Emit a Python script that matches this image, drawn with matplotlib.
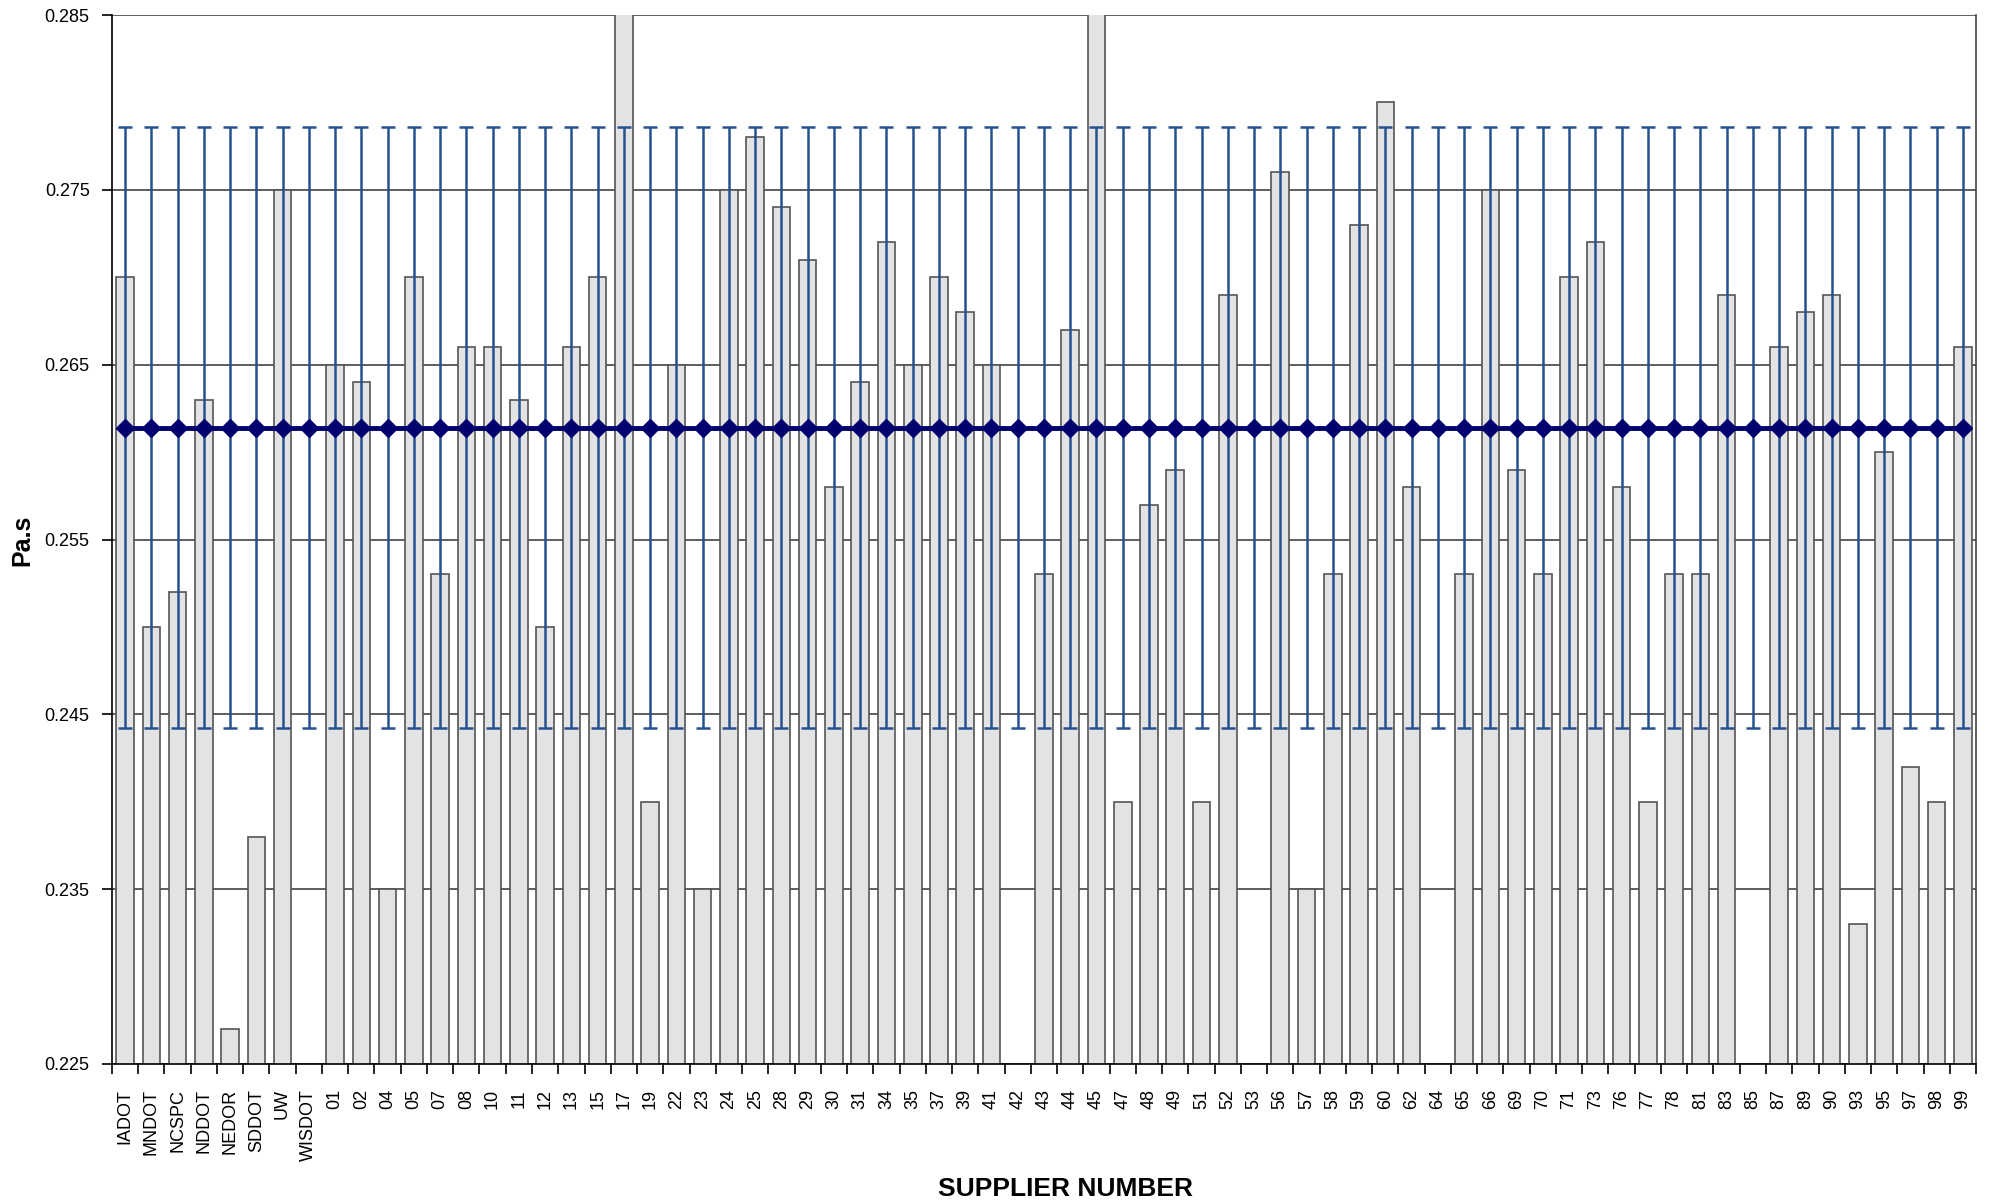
import numpy as np
import matplotlib
matplotlib.use("Agg")
import matplotlib.pyplot as plt

plt.rcParams['font.family'] = ['Liberation Sans', 'DejaVu Sans']

suppliers = ['IADOT', 'MNDOT', 'NCSPC', 'NDDOT', 'NEDOR', 'SDDOT', 'UW', 'WISDOT',
             '01', '02', '04', '05', '07', '08', '10', '11', '12', '13', '15', '17',
             '19', '22', '23', '24', '25', '28', '29', '30', '31', '34', '35', '37',
             '39', '41', '42', '43', '44', '45', '47', '48', '49', '51', '52', '53',
             '56', '57', '58', '59', '60', '62', '64', '65', '66', '69', '70', '71',
             '73', '76', '77', '78', '81', '83', '85', '87', '89', '90', '93', '95',
             '97', '98', '99']

# viscosity per supplier, nan = no result shown
viscosity = [0.270, 0.250, 0.252, 0.263, 0.227, 0.238, 0.275, np.nan,
             0.265, 0.264, 0.235, 0.270, 0.253, 0.266, 0.266, 0.263, 0.250, 0.266, 0.270, 0.290,
             0.240, 0.265, 0.235, 0.275, 0.278, 0.274, 0.271, 0.258, 0.264, 0.272, 0.265, 0.270,
             0.268, 0.265, np.nan, 0.253, 0.267, 0.290, 0.240, 0.257, 0.259, 0.240, 0.269, np.nan,
             0.276, 0.235, 0.253, 0.273, 0.280, 0.258, np.nan, 0.253, 0.275, 0.259, 0.253, 0.270,
             0.272, 0.258, 0.240, 0.253, 0.253, 0.269, np.nan, 0.266, 0.268, 0.269, 0.233, 0.260,
             0.242, 0.240, 0.266]

grand_mean = 0.2614
limit = 0.0172
y_ticks = [0.225, 0.235, 0.245, 0.255, 0.265, 0.275, 0.285]

x = np.arange(len(suppliers))
mean_line = np.full(len(suppliers), grand_mean)

fig = plt.figure(figsize=(19.95, 12.04), dpi=100)
ax = fig.add_axes([0.0561, 0.1163, 0.9344, 0.8712])

ax.bar(x, viscosity, width=0.67, color='#e3e3e3', edgecolor='#555555',
       linewidth=1.2, zorder=2)
ax.errorbar(x, mean_line, yerr=limit, fmt='none', ecolor='#26518e',
            elinewidth=1.8, capsize=5, capthick=1.8, zorder=3)
ax.plot(x, mean_line, color='#00006e', linewidth=3.5, marker='D',
        markersize=9, zorder=4)

ax.set_ylim(0.225, 0.285)
ax.set_xlim(-0.5, len(suppliers) - 0.5)
ax.set_yticks(y_ticks)
ax.set_yticklabels([f'{v:.3f}' for v in y_ticks], fontsize=13)
ax.yaxis.grid(True, color='#333333', linewidth=1.1)
ax.set_axisbelow(True)

ax.set_xticks(x)
ax.set_xticklabels(suppliers, rotation=90, fontsize=13)
ax.set_xticks(np.arange(-0.5, len(suppliers)), minor=True)
ax.tick_params(axis='x', which='major', length=0, pad=18)
ax.tick_params(axis='x', which='minor', length=7, width=1.2, direction='out')
ax.tick_params(axis='y', length=7, width=1.2, direction='out', pad=9)

ax.spines['top'].set_visible(False)
for side in ['left', 'bottom', 'right']:
    ax.spines[side].set_color('black')
    ax.spines[side].set_linewidth(1.2)
ax.spines['right'].set_color('#444444')

fig.text(0.0112, 0.5515, 'Pa.s', rotation=90, fontsize=18, fontweight='bold',
         ha='center', va='center')
fig.text(0.534, 0.0125, 'SUPPLIER NUMBER', fontsize=19, fontweight='bold',
         ha='center', va='center')

fig.savefig('out.png', dpi=100)
